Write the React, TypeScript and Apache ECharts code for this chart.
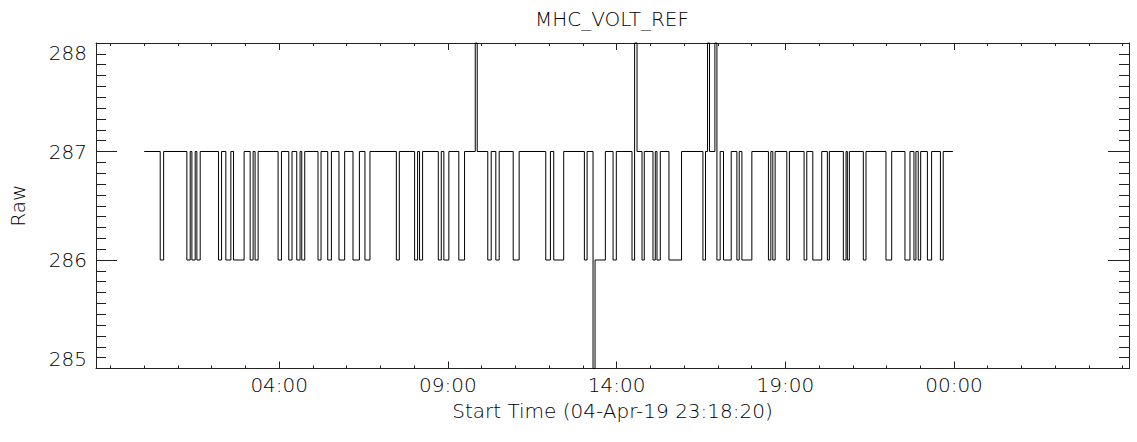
import React, { useEffect, useRef } from "react";
import * as echarts from "echarts";

// Minutes since 05-Apr-19 00:00 at which the raw value changes, and the value held from then on
const times = [
  0,
  28.4, 34.5, 75.8, 81.7, 84.7, 90.6, 93.6, 99.5, 132.1, 137.5,
  145.1, 154.0, 158.8, 177.6, 188.3, 193.6, 197.1, 202.5, 238.0, 244.0,
  257.0, 262.8, 271.2, 277.1, 280.1, 285.4, 309.0, 314.4, 326.3, 332.8,
  346.3, 356.4, 371.2, 382.6, 392.5, 401.4, 448.3, 453.6, 480.8, 486.1,
  489.6, 495.0, 522.9, 528.2, 532.8, 541.7, 559.4, 569.6, 588.6, 592.1,
  610.9, 617.0, 625.2, 631.2, 656.1, 666.7, 714.0, 722.3, 728.2, 745.9,
  782.7, 787.5, 798.1, 801.7, 820.0, 833.7, 839.5, 867.4, 872.0, 876.3,
  885.2, 889.2, 904.7, 908.8, 911.8, 917.7, 933.1, 955.5, 993.5, 998.1,
  1001.7, 1005.2, 1014.8, 1018.4, 1024.2, 1030.1, 1043.8, 1053.9, 1058.0, 1062.8,
  1080.5, 1110.0, 1114.3, 1117.8, 1121.9, 1142.7, 1147.3, 1173.4, 1178.2, 1188.9,
  1204.8, 1214.8, 1218.3, 1243.2, 1248.0, 1250.3, 1253.9, 1278.7, 1283.5, 1319.0,
  1329.2, 1352.8, 1361.7, 1368.8, 1372.3, 1376.4, 1380.7, 1392.7, 1400.2, 1415.8,
  1420.8, 1438.0,
];
const values = [
  287,
  286, 287, 286, 287, 286, 287, 286, 287, 286, 287,
  286, 287, 286, 287, 286, 287, 286, 287, 286, 287,
  286, 287, 286, 287, 286, 287, 286, 287, 286, 287,
  286, 287, 286, 287, 286, 287, 286, 287, 286, 287,
  286, 287, 286, 287, 286, 287, 286, 287, 288, 287,
  286, 287, 286, 287, 286, 287, 286, 287, 286, 287,
  286, 287, 285, 286, 287, 286, 287, 286, 288, 287,
  286, 287, 286, 287, 286, 287, 286, 287, 286, 287,
  288, 287, 288, 286, 287, 286, 287, 286, 287, 286,
  287, 286, 287, 286, 287, 286, 287, 286, 287, 286,
  287, 286, 287, 286, 287, 286, 287, 286, 287, 286,
  287, 286, 287, 286, 287, 286, 287, 286, 287, 286,
  287, 287,
];

const majorTickValues = [240, 540, 840, 1140, 1440];
const majorTickLabels = ["04:00", "09:00", "14:00", "19:00", "00:00"];
const xRange = [-85.8, 1751.2];
const yRange = [285, 288];

const titleText = "MHC_VOLT_REF";
const xTitle = "Start Time (04-Apr-19 23:18:20)";
const yTitle = "Raw";

const FONT = "DejaVu Sans";
const WEIGHT = 200;
const INK = "#222";
const TEXT_INK = "#000";

export default function App() {
  const ref = useRef<HTMLDivElement>(null);

  useEffect(() => {
    document.body.style.margin = "0";
    if (!ref.current) return;
    const chart = echarts.init(ref.current, undefined, { renderer: "svg" });

    const minorTickValues: number[] = [];
    for (let m = -60; m <= xRange[1]; m += 60) {
      if (!majorTickValues.includes(m)) minorTickValues.push(m);
    }

    const data = times.map((t, i) => [t, values[i]]);

    const baseX = {
      type: "value" as const,
      min: xRange[0],
      max: xRange[1],
      splitLine: { show: false },
      axisLine: { show: false, onZero: false },
      axisLabel: { show: false },
    };

    const baseY = {
      type: "value" as const,
      min: yRange[0],
      max: yRange[1],
      interval: 1,
      splitLine: { show: false },
      axisLine: { show: true, onZero: false, lineStyle: { color: INK, width: 1 } },
      axisTick: { show: true, inside: true, length: 21, lineStyle: { color: INK, width: 1 } },
      minorTick: { show: true, splitNumber: 10, length: 10, lineStyle: { color: INK, width: 1 } },
    };

    const labelText = { fontSize: 20, color: TEXT_INK, fontFamily: FONT, fontWeight: WEIGHT };

    chart.setOption({
      animation: false,
      backgroundColor: "#fff",
      textStyle: { fontFamily: FONT },
      grid: { left: 95, right: 8, top: 43, bottom: 73.5, containLabel: false },
      xAxis: [
        {
          ...baseX,
          position: "bottom",
          axisLine: { show: true, onZero: false, lineStyle: { color: INK, width: 1 } },
          axisTick: {
            show: true,
            inside: true,
            length: 7,
            customValues: majorTickValues,
            lineStyle: { color: INK, width: 1 },
          },
          axisLabel: {
            show: true,
            customValues: majorTickValues,
            formatter: (v: number) => majorTickLabels[majorTickValues.indexOf(Math.round(v))] ?? "",
            ...labelText,
            margin: 6,
          },
          name: xTitle,
          nameLocation: "middle",
          nameGap: 32,
          nameTextStyle: labelText,
        },
        {
          ...baseX,
          position: "bottom",
          axisTick: {
            show: true,
            inside: true,
            length: 3,
            customValues: minorTickValues,
            lineStyle: { color: INK, width: 1 },
          },
        },
        {
          ...baseX,
          position: "top",
          axisLine: { show: true, onZero: false, lineStyle: { color: INK, width: 1 } },
          axisTick: {
            show: true,
            inside: true,
            length: 7,
            customValues: majorTickValues,
            lineStyle: { color: INK, width: 1 },
          },
        },
        {
          ...baseX,
          position: "top",
          axisTick: {
            show: true,
            inside: true,
            length: 3,
            customValues: minorTickValues,
            lineStyle: { color: INK, width: 1 },
          },
        },
      ],
      yAxis: [
        {
          ...baseY,
          position: "left",
          axisLabel: {
            show: true,
            ...labelText,
            margin: 9,
            verticalAlignMaxLabel: "top",
            verticalAlignMinLabel: "bottom",
          },
          name: yTitle,
          nameLocation: "middle",
          nameGap: 68,
          nameRotate: 90,
          nameTextStyle: labelText,
        },
        {
          ...baseY,
          position: "right",
          axisLabel: { show: false },
        },
      ],
      graphic: [
        {
          type: "text",
          x: 612,
          y: 19,
          style: {
            text: titleText,
            fontSize: 20,
            fontFamily: FONT,
            fontWeight: WEIGHT,
            fill: TEXT_INK,
            textAlign: "center",
            textVerticalAlign: "middle",
          },
        },
      ],
      series: [
        {
          type: "line",
          xAxisIndex: 0,
          yAxisIndex: 0,
          step: "end",
          showSymbol: false,
          symbol: "none",
          data,
          lineStyle: { color: "#000", width: 1 },
          clip: false,
        },
      ],
    });

    return () => chart.dispose();
  }, []);

  return <div ref={ref} style={{ width: 1137, height: 442 }} />;
}
